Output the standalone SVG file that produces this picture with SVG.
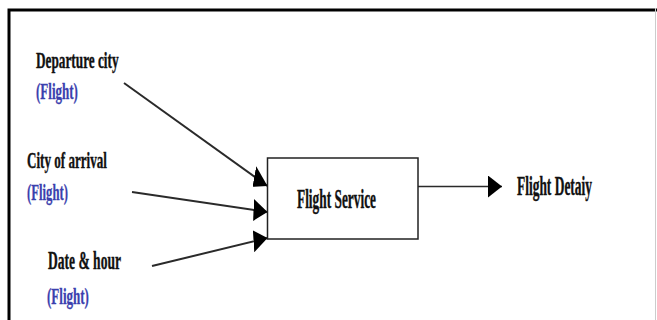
<svg xmlns="http://www.w3.org/2000/svg" width="657" height="320" viewBox="0 0 657 320">
  <style>
    .lbl { font-family: "Liberation Serif", "Times New Roman", serif; font-weight: bold; fill: #111; stroke: #111; stroke-width: 0.4; }
    .sub { font-family: "Liberation Serif", "Times New Roman", serif; font-weight: bold; fill: #3b3fae; stroke: #3b3fae; stroke-width: 0.3; }
    .wire { stroke: #2a2a2a; stroke-width: 2; fill: none; }
    .box { fill: #fff; stroke: #222; stroke-width: 1.5; }
  </style>
  <defs>
    <!-- drawn in the 2x-wide coordinate space of the connector group -->
    <marker id="head" markerUnits="userSpaceOnUse" markerWidth="28" markerHeight="22" refX="28" refY="11" orient="auto">
      <path d="M0,0 L28,11 L0,22 Z" fill="#000"/>
    </marker>
  </defs>

  <rect width="657" height="320" fill="#fff"/>

  <!-- outer frame -->
  <g id="frame">
    <path d="M9,320 V10 H657" fill="none" stroke="#000" stroke-width="3"/>
    <line x1="655.5" y1="8" x2="655.5" y2="320" stroke="#ccc" stroke-width="1"/>
  </g>

  <!-- connectors: group is squeezed horizontally, so x values are doubled -->
  <g id="connectors" transform="scale(0.5,1)">
    <line class="wire" vector-effect="non-scaling-stroke" x1="248" y1="83" x2="535" y2="186" marker-end="url(#head)"/>
    <line class="wire" vector-effect="non-scaling-stroke" x1="264" y1="192" x2="535" y2="212" marker-end="url(#head)"/>
    <line class="wire" vector-effect="non-scaling-stroke" x1="304" y1="266" x2="535" y2="238" marker-end="url(#head)"/>
    <line class="wire" vector-effect="non-scaling-stroke" style="stroke-width:1.5" x1="836" y1="186.5" x2="1004" y2="186.5" marker-end="url(#head)"/>
  </g>

  <g id="in-departure">
    <text class="lbl" font-size="24" transform="translate(36,68) scale(0.553,1)">Departure city</text>
    <text class="sub" font-size="24" transform="translate(36,99) scale(0.543,1)">(Flight)</text>
  </g>

  <g id="in-arrival">
    <text class="lbl" font-size="24" transform="translate(27,168) scale(0.545,1)">City of arrival</text>
    <text class="sub" font-size="24" transform="translate(27,200) scale(0.53,1)">(Flight)</text>
  </g>

  <g id="in-date">
    <text class="lbl" font-size="25" transform="translate(48,269) scale(0.542,1)">Date &amp; hour</text>
    <text class="sub" font-size="24" transform="translate(47,304) scale(0.543,1)">(Flight)</text>
  </g>

  <g id="flight-service">
    <rect class="box" x="267.5" y="158" width="150.5" height="81"/>
    <text class="lbl" font-size="27" transform="translate(297,208) scale(0.495,1)">Flight Service</text>
  </g>

  <g id="out-detail">
    <text class="lbl" font-size="27" transform="translate(517,195) scale(0.498,1)">Flight Detaiy</text>
  </g>
</svg>
